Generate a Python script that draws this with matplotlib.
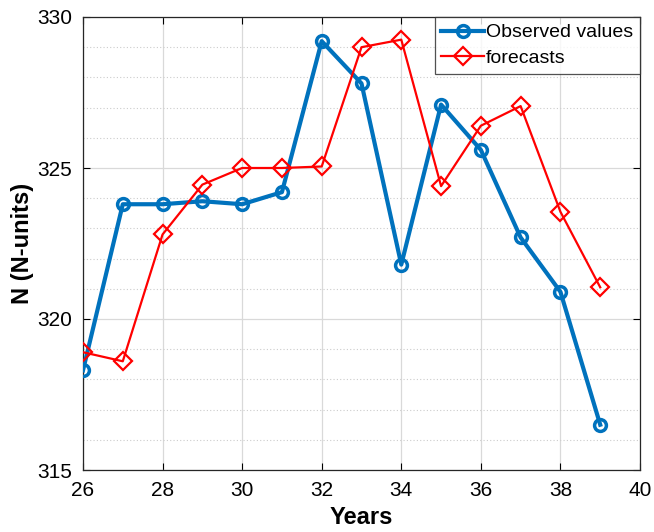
import matplotlib
matplotlib.use("Agg")
import matplotlib.pyplot as plt
from matplotlib.ticker import MultipleLocator

plt.rcParams['font.family'] = ['Liberation Sans', 'DejaVu Sans']

years = [26, 27, 28, 29, 30, 31, 32, 33, 34, 35, 36, 37, 38, 39]
observed = [318.3, 323.8, 323.8, 323.9, 323.8, 324.2, 329.2, 327.8, 321.8, 327.1, 325.6, 322.7, 320.9, 316.5]
forecasts = [318.9, 318.6, 322.8, 324.45, 325.0, 325.0, 325.05, 329.0, 329.25, 324.4, 326.4, 327.05, 323.55, 321.05]

fig = plt.figure(figsize=(6.54, 5.32), dpi=100)
ax = fig.add_axes([83/654, 1 - 470/532, (640-83)/654, (470-17)/532])

ax.plot(years, observed, '-o', color='#0072BD', lw=3, ms=8.5, mew=2.5,
        mfc='none', label='Observed values', zorder=3)
ax.plot(years, forecasts, '-D', color='#FF0000', lw=1.6, ms=9, mew=1.6,
        mfc='none', label='forecasts', zorder=4)

ax.set_xlim(26, 40)
ax.set_ylim(315, 330)
ax.xaxis.set_major_locator(MultipleLocator(2))
ax.yaxis.set_major_locator(MultipleLocator(5))
ax.yaxis.set_minor_locator(MultipleLocator(1))
ax.grid(True, which='major', color='#d9d9d9', lw=0.9)
ax.grid(True, which='minor', axis='y', color='#cccccc', lw=0.8, ls=(0, (1, 2)))
ax.set_axisbelow(True)
ax.tick_params(which='major', direction='in', length=5, top=True, right=True,
               labelsize=15, width=0.8, pad=8)
ax.tick_params(which='minor', length=0)
for s in ax.spines.values():
    s.set_color('#262626')
    s.set_linewidth(0.9)

ax.set_xlabel('Years', fontsize=17, fontweight='bold', labelpad=4)
ax.set_ylabel('N (N-units)', fontsize=17, fontweight='bold', labelpad=2)

leg = ax.legend(loc='upper right', fontsize=14, frameon=True, fancybox=False,
                edgecolor='#262626', borderaxespad=0, handlelength=2.2,
                handletextpad=0.1, borderpad=0.35, labelspacing=0.4)
leg.get_frame().set_linewidth(0.9)

fig.savefig('out.png', dpi=100)
